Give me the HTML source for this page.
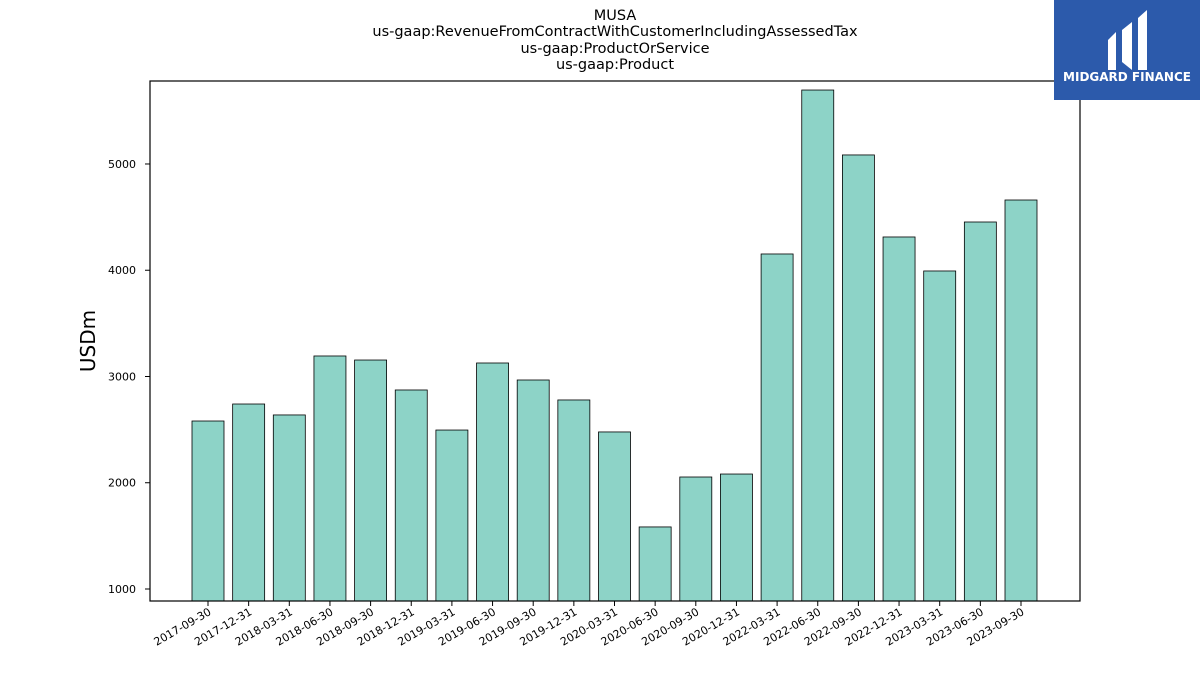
<!DOCTYPE html>
<html><head><meta charset="utf-8"><style>
body{margin:0;background:#fff;font-family:"Liberation Sans","DejaVu Sans",sans-serif}
</style></head><body>
<svg id="chart" width="1200" height="675" xmlns="http://www.w3.org/2000/svg" font-family="DejaVu Sans, Liberation Sans, sans-serif">
<rect width="1200" height="675" fill="#fff"/>
<g font-size="14.5" text-anchor="middle" fill="#000">
<text x="615" y="20">MUSA</text>
<text x="615" y="36">us-gaap:RevenueFromContractWithCustomerIncludingAssessedTax</text>
<text x="615" y="53">us-gaap:ProductOrService</text>
<text x="615" y="69">us-gaap:Product</text>
</g>
<g id="bars"></g>
<rect x="150" y="81" width="930" height="520" fill="none" stroke="#000" stroke-width="1.2"/>
<g id="yaxis"></g>
<g id="xaxis"></g>
<text x="95" y="341" font-size="20" text-anchor="middle" transform="rotate(-90 95 341)">USDm</text>
<g>
<rect x="1054" y="0" width="146" height="100" fill="#2c5aab"/>
<path d="M1108 40 L1116 32 L1116 70 L1108 70 Z M1122 30 L1132 22 L1132 70 L1122 62 Z M1138 18 L1147 10 L1147 70 L1138 70 Z" fill="#fff"/>
<text x="1127" y="81" font-size="12" font-weight="bold" fill="#fff" text-anchor="middle">MIDGARD FINANCE</text>
</g>
</svg>
<script>
const categories=["2017-09-30","2017-12-31","2018-03-31","2018-06-30","2018-09-30","2018-12-31","2019-03-31","2019-06-30","2019-09-30","2019-12-31","2020-03-31","2020-06-30","2020-09-30","2020-12-31","2022-03-31","2022-06-30","2022-09-30","2022-12-31","2023-03-31","2023-06-30","2023-09-30"];
const values=[2581,2741,2638,3193,3155,2873,2496,3127,2967,2779,2478,1584,2054,2082,4153,5696,5085,4313,3993,4454,4661];
const yTicks=[1000,2000,3000,4000,5000];
const NS="http://www.w3.org/2000/svg";
const yMin=887,yMax=5781,plotTop=81,plotBottom=601;
function yScale(v){return plotBottom-(v-yMin)/(yMax-yMin)*(plotBottom-plotTop);}
const x0=208,step=40.65,bw=32;
function xScale(i){return x0+i*step;}
const barsG=document.getElementById('bars');
values.forEach((v,i)=>{
 const r=document.createElementNS(NS,'rect');
 
 
 r.setAttribute('x',xScale(i)-bw/2);r.setAttribute('y',yScale(v));
 r.setAttribute('width',bw);r.setAttribute('height',plotBottom-yScale(v));
 r.setAttribute('fill','#8dd3c7');r.setAttribute('stroke','#000');r.setAttribute('stroke-width','0.8');
 barsG.appendChild(r);
});
const ya=document.getElementById('yaxis');
yTicks.forEach(t=>{
 const l=document.createElementNS(NS,'line');
 
 
 l.setAttribute('x1',145);l.setAttribute('x2',150);l.setAttribute('y1',yScale(t));l.setAttribute('y2',yScale(t));l.setAttribute('stroke','#000');
 ya.appendChild(l);
 const tx=document.createElementNS(NS,'text');
 
 
 tx.setAttribute('x',136);tx.setAttribute('y',yScale(t)+4);tx.setAttribute('font-size','11');tx.setAttribute('text-anchor','end');
 tx.textContent=t;ya.appendChild(tx);
});
const xa=document.getElementById('xaxis');
categories.forEach((c,i)=>{
 const l=document.createElementNS(NS,'line');
 
 
 l.setAttribute('x1',xScale(i));l.setAttribute('x2',xScale(i));l.setAttribute('y1',601);l.setAttribute('y2',606);l.setAttribute('stroke','#000');
 xa.appendChild(l);
 const tx=document.createElementNS(NS,'text');
 
 
 const px=xScale(i)+4,py=614;
 tx.setAttribute('x',px);tx.setAttribute('y',py);tx.setAttribute('font-size','11');tx.setAttribute('text-anchor','end');
 tx.setAttribute('transform','rotate(-30 '+px+' '+py+')');
 tx.textContent=c;xa.appendChild(tx);
});
</script>
</body></html>
